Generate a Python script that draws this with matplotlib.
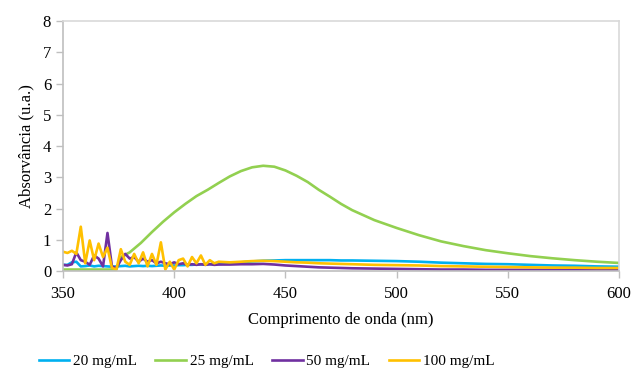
import matplotlib
matplotlib.use("Agg")
import matplotlib.pyplot as plt

plt.rcParams["font.family"] = ["Liberation Serif", "DejaVu Serif"]

# noisy region, 2 nm steps, then coarser
wl_noisy = list(range(350, 422, 2))
wl_tail = [425, 430, 435, 440, 445, 450, 455, 460, 465, 470, 475, 480, 490,
           500, 510, 520, 530, 540, 550, 560, 570, 580, 590, 600]

a20_noisy = [0.20, 0.20, 0.28, 0.30, 0.15, 0.16, 0.18, 0.15, 0.17, 0.16, 0.15, 0.14,
             0.15, 0.16, 0.17, 0.15, 0.16, 0.17, 0.16, 0.17, 0.16, 0.17, 0.18, 0.17,
             0.18, 0.18, 0.19, 0.19, 0.20, 0.20, 0.21, 0.21, 0.22, 0.22, 0.23, 0.23]
a20_tail = [0.25, 0.28, 0.31, 0.33, 0.34, 0.35, 0.35, 0.35, 0.35, 0.35, 0.34, 0.34, 0.33,
            0.32, 0.30, 0.27, 0.25, 0.23, 0.22, 0.20, 0.18, 0.17, 0.15, 0.14]

a100_noisy = [0.62, 0.58, 0.65, 0.55, 1.42, 0.25, 0.98, 0.35, 0.88, 0.45, 0.75, 0.10,
              0.05, 0.70, 0.30, 0.20, 0.55, 0.25, 0.60, 0.15, 0.55, 0.20, 0.92, 0.05,
              0.30, 0.05, 0.35, 0.40, 0.15, 0.45, 0.25, 0.50, 0.20, 0.35, 0.25, 0.30]
a100_tail = [0.28, 0.30, 0.32, 0.33, 0.32, 0.30, 0.28, 0.27, 0.25, 0.24, 0.23, 0.22, 0.20,
             0.19, 0.18, 0.16, 0.15, 0.14, 0.13, 0.12, 0.11, 0.11, 0.10, 0.10]

a50_noisy = [0.20, 0.18, 0.22, 0.60, 0.35, 0.30, 0.20, 0.50, 0.40, 0.15, 1.22, 0.15,
             0.10, 0.35, 0.55, 0.40, 0.45, 0.30, 0.40, 0.30, 0.35, 0.25, 0.30, 0.25,
             0.22, 0.28, 0.22, 0.25, 0.20, 0.22, 0.20, 0.22, 0.20, 0.22, 0.20, 0.21]
a50_tail = [0.21, 0.22, 0.22, 0.23, 0.21, 0.18, 0.16, 0.14, 0.12, 0.11, 0.10, 0.09, 0.08,
            0.07, 0.06, 0.05, 0.05, 0.04, 0.04, 0.04, 0.04, 0.04, 0.04, 0.04]

wl_25 = [350, 360, 370, 374, 376, 380, 385, 390, 395, 400, 405, 410, 415, 420, 425, 430,
         435, 440, 445, 450, 455, 460, 465, 470, 475, 480, 490, 500, 510, 520, 530, 540,
         550, 560, 570, 580, 590, 600]
a25 = [0.05, 0.05, 0.05, 0.05, 0.45, 0.60, 0.90, 1.25, 1.58, 1.88, 2.15, 2.40, 2.60, 2.82,
       3.03, 3.20, 3.32, 3.37, 3.34, 3.22, 3.05, 2.85, 2.60, 2.38, 2.15, 1.95, 1.63, 1.38,
       1.15, 0.95, 0.80, 0.67, 0.57, 0.48, 0.41, 0.35, 0.30, 0.26]

labels = ["20 mg/mL", "25 mg/mL", "50 mg/mL", "100 mg/mL"]
colors = ["#00B0F0", "#92D050", "#7030A0", "#FFC000"]

fig = plt.figure(figsize=(6.35, 3.76), dpi=100)
ax = fig.add_axes([0.0992, 0.279, 0.8758, 0.665])

ax.plot(wl_noisy + wl_tail, a20_noisy + a20_tail, color=colors[0], lw=1.9, label=labels[0])
ax.plot(wl_25, a25, color=colors[1], lw=1.9, label=labels[1])
ax.plot(wl_noisy + wl_tail, a50_noisy + a50_tail, color=colors[2], lw=1.9, label=labels[2])
ax.plot(wl_noisy + wl_tail, a100_noisy + a100_tail, color=colors[3], lw=1.9, label=labels[3])

ax.set_xlim(350, 600)
ax.set_ylim(0, 8)
ax.set_xticks([350, 400, 450, 500, 550, 600])
ax.set_yticks(range(0, 9))
ax.tick_params(labelsize=12, length=5, color="#BFBFBF", width=1)
ax.tick_params(axis="x", pad=6)
for side in ["left", "bottom"]:
    ax.spines[side].set_color("#BFBFBF")
for side in ["top", "right"]:
    ax.spines[side].set_color("#D9D9D9")
for s in ax.spines.values():
    s.set_linewidth(1.2)

ax.set_xlabel("Comprimento de onda (nm)", fontsize=12, labelpad=7)
ax.set_ylabel("Absorvância (u.a.)", fontsize=12, labelpad=6)

fig.legend(loc="lower center", bbox_to_anchor=(0.42, -0.015), ncol=4, frameon=False,
           fontsize=11, handlelength=2.0, columnspacing=1.2, handletextpad=0.25)

fig.savefig("out.png", dpi=100)
